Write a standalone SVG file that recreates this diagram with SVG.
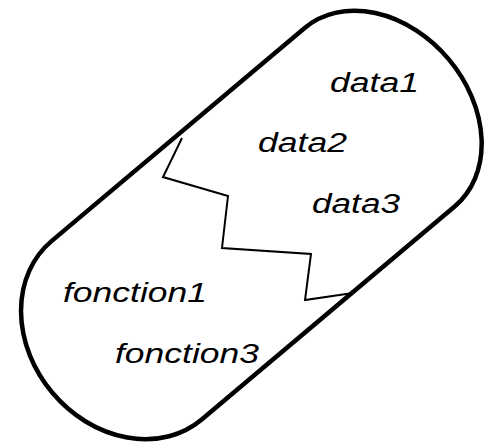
<svg xmlns="http://www.w3.org/2000/svg" width="490" height="443" viewBox="0 0 490 443">
<style>
.lbl{font-family:"Liberation Sans",Arial,sans-serif;font-style:italic;font-size:27px;fill:#000}
.outline{fill:#fff;stroke:#000;stroke-width:4.5;stroke-linejoin:round}
.zig{fill:none;stroke:#000;stroke-width:2;stroke-linejoin:miter}
</style>
<rect width="490" height="443" fill="#fff"/>
<g id="capsule" transform="translate(253.2,223.7) rotate(-40.1)">
<path class="outline" d="M-165.5,-116.6 L165.5,-116.6 A90,116.6 0 0 1 165.5,116.6 L-165.5,116.6 A97,116.6 0 0 1 -165.5,-116.6 Z"/>
</g>
<g id="connectors">
<polyline class="zig" points="182,138 163,177 228,196 222,248 311,254 305,300 353,293"/>
</g>
<g id="data1"><text class="lbl" x="330" y="92" textLength="89" lengthAdjust="spacingAndGlyphs">data1</text></g>
<g id="data2"><text class="lbl" x="258" y="152" textLength="89" lengthAdjust="spacingAndGlyphs">data2</text></g>
<g id="data3"><text class="lbl" x="312" y="213" textLength="88" lengthAdjust="spacingAndGlyphs">data3</text></g>
<g id="fonction1"><text class="lbl" x="63" y="302" textLength="144" lengthAdjust="spacingAndGlyphs">fonction1</text></g>
<g id="fonction3"><text class="lbl" x="115" y="363" textLength="144" lengthAdjust="spacingAndGlyphs">fonction3</text></g>
</svg>
